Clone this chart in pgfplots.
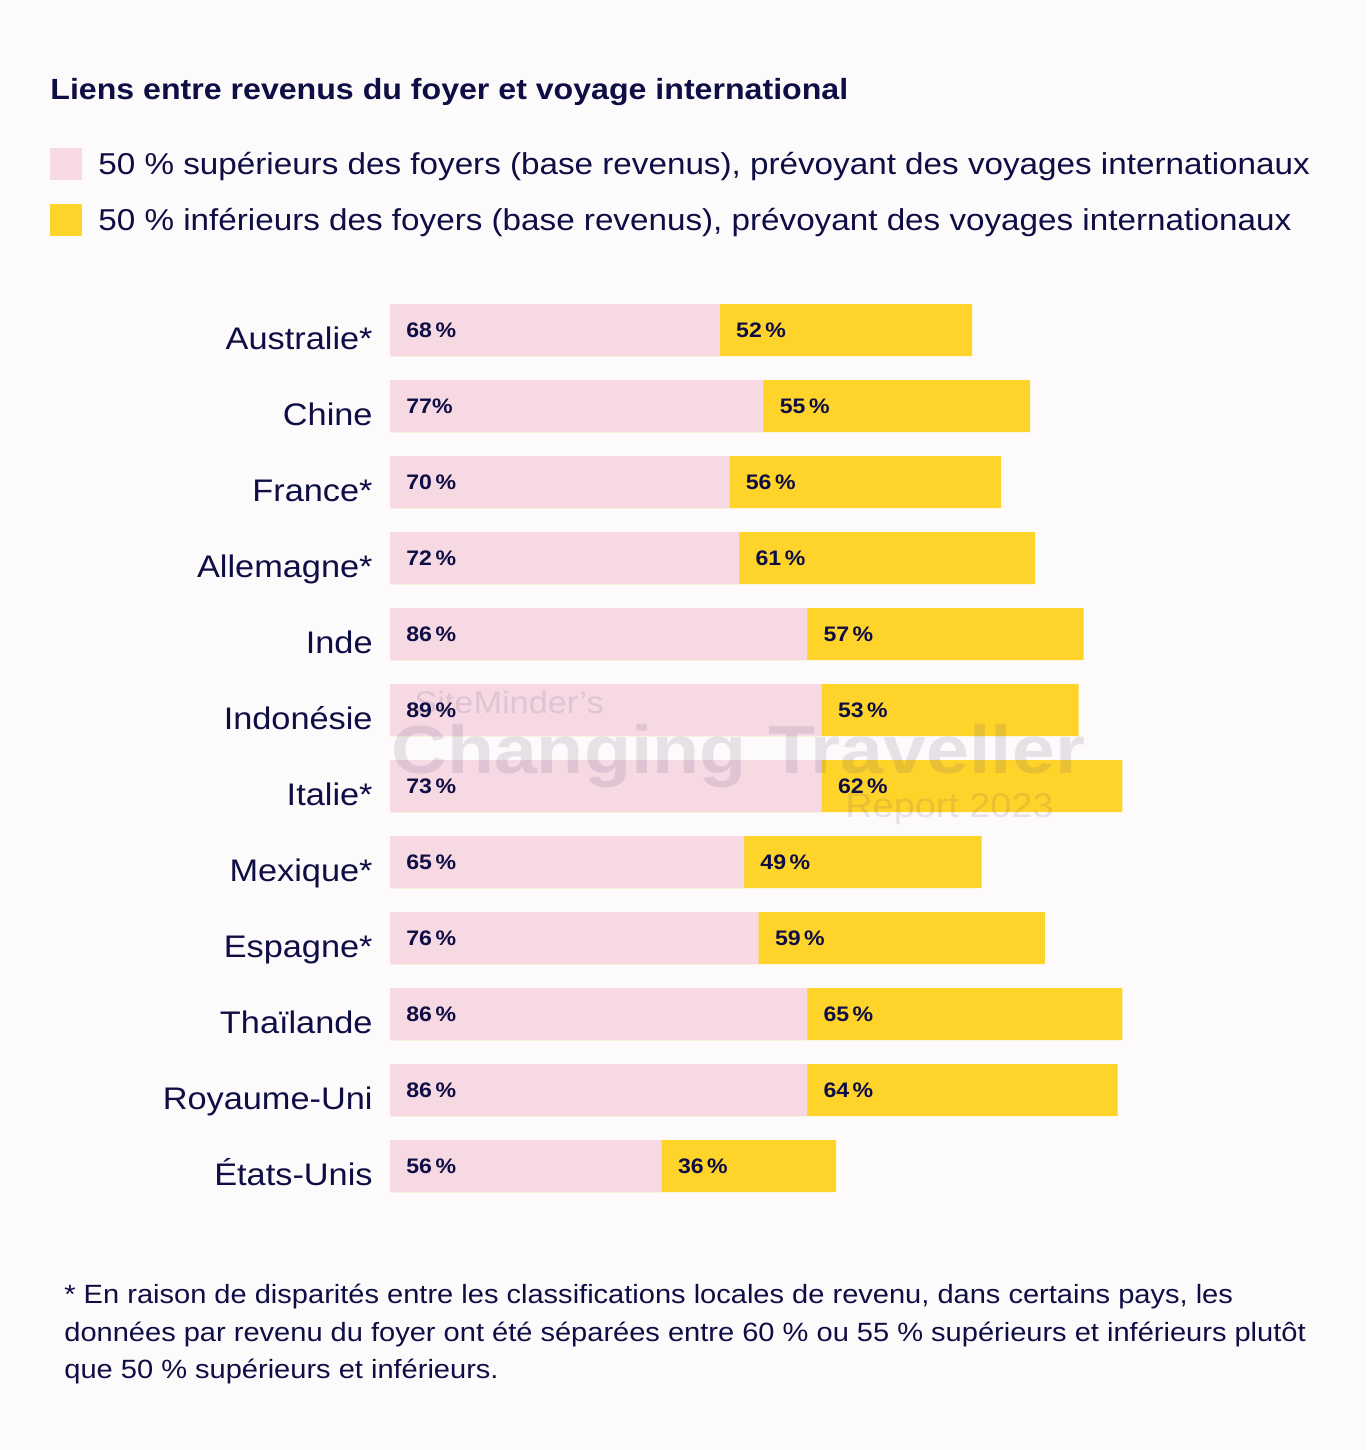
\documentclass[border=0pt]{standalone}
\usepackage{fontspec}
\setmainfont{Liberation Sans}[FakeStretch=1.1]
\usepackage{pgfplots}
\pgfplotsset{compat=1.18}
\usepackage{pgfplotstable}
\definecolor{bg}{HTML}{FDFAFB}
\definecolor{navy}{HTML}{0E0E45}
\definecolor{pinkbar}{HTML}{F7D9E4}
\definecolor{yellowbar}{HTML}{FFD42A}
\definecolor{wm}{HTML}{5A4A6E}
\newcommand\pc{\,\%}

\pgfplotstableread[col sep=semicolon]{
idx;country;a;b;total;plab;blab
0;Australie*;68;52;120;68\pc;52\pc
1;Chine;77;55;132;77\%;55\pc
2;France*;70;56;126;70\pc;56\pc
3;Allemagne*;72;61;133;72\pc;61\pc
4;Inde;86;57;143;86\pc;57\pc
5;Indonésie;89;53;142;89\pc;53\pc
6;Italie*;89;62;151;73\pc;62\pc
7;Mexique*;73;49;122;65\pc;49\pc
8;Espagne*;76;59;135;76\pc;59\pc
9;Thaïlande;86;65;151;86\pc;65\pc
10;Royaume-Uni;86;64;150;86\pc;64\pc
11;États-Unis;56;36;92;56\pc;36\pc
}\data

\begin{document}
\begin{tikzpicture}
\fill[bg] (0,0) rectangle (683pt,-725pt);
\node[anchor=base west, font=\fontsize{14.6}{17}\selectfont\bfseries, text=navy, inner sep=0pt] at (25pt,-49.5pt) {Liens entre revenus du foyer et voyage international};
\begin{axis}[
 at={(195pt,-146pt)}, anchor=north west,
 scale only axis, width=388pt, height=456pt,
 xmin=0, xmax=160, ymin=-0.5, ymax=11.5, y dir=reverse,
 axis line style={draw=none}, xtick=\empty, ytick={0,...,11},
 yticklabels from table={\data}{country},
 major tick length=0pt,
 yticklabel style={anchor=base east, inner sep=0pt, xshift=-8.5pt, yshift=-9.5pt, font=\fontsize{15.6}{19}\selectfont, text=navy},
 bar width=26pt,
 clip=false,
 legend style={at={(axis description cs:-0.4381,1.1579)}, anchor=north west, draw=none, fill=none, inner sep=0pt, font=\fontsize{15.1}{18}\selectfont, text=navy, row sep=12pt, nodes={inner sep=0pt}, /tikz/every odd column/.append style={column sep=8pt}},
 legend cell align=left,
 reverse legend,
 legend image code/.code={\fill[#1] (0pt,-8pt) rectangle (16pt,8pt);},
]
\addplot[xbar, bar shift=0pt, fill=yellowbar, draw=none] table[x=total, y=idx]{\data};
\addlegendentry{50 \% inférieurs des foyers (base revenus), prévoyant des voyages internationaux}
\addplot[xbar, bar shift=0pt, fill=pinkbar, draw=none] table[x=a, y=idx]{\data};
\addlegendentry{50 \% supérieurs des foyers (base revenus), prévoyant des voyages internationaux}
\addplot[draw=none, mark=none, forget plot, nodes near coords, point meta=explicit symbolic,
  every node near coord/.append style={anchor=west, inner sep=0pt, xshift=8pt, font=\fontsize{10.5}{12}\selectfont\bfseries, text=navy}]
  table[x expr=0, y=idx, meta=plab]{\data};
\addplot[draw=none, mark=none, forget plot, nodes near coords, point meta=explicit symbolic,
  every node near coord/.append style={anchor=west, inner sep=0pt, xshift=8pt, font=\fontsize{10.5}{12}\selectfont\bfseries, text=navy}]
  table[x=a, y=idx, meta=blab]{\data};
\end{axis}
\node[anchor=base west, inner sep=0pt, text=wm, opacity=0.14, font=\fontsize{15.6}{18}\selectfont] at (207pt,-356.5pt) {SiteMinder’s};
\node[anchor=base west, inner sep=0pt, text=wm, opacity=0.14, font=\fontsize{34}{40}\selectfont\bfseries] at (195.5pt,-386.5pt) {\scalebox{1.03}[1]{Changing Traveller}};
\node[anchor=base west, inner sep=0pt, text=wm, opacity=0.14, font=\fontsize{17.2}{20}\selectfont] at (422.5pt,-408.5pt) {Report 2023};
\begin{scope}[every node/.style={anchor=base west, inner sep=0pt, text=navy, font=\fontsize{13.2}{15}\selectfont}]
\node at (32pt,-651.5pt) {* En raison de disparités entre les classifications locales de revenu, dans certains pays, les};
\node at (32pt,-670.5pt) {données par revenu du foyer ont été séparées entre 60 \% ou 55 \% supérieurs et inférieurs plutôt};
\node at (32pt,-689pt) {que 50 \% supérieurs et inférieurs.};
\end{scope}
\end{tikzpicture}
\end{document}
